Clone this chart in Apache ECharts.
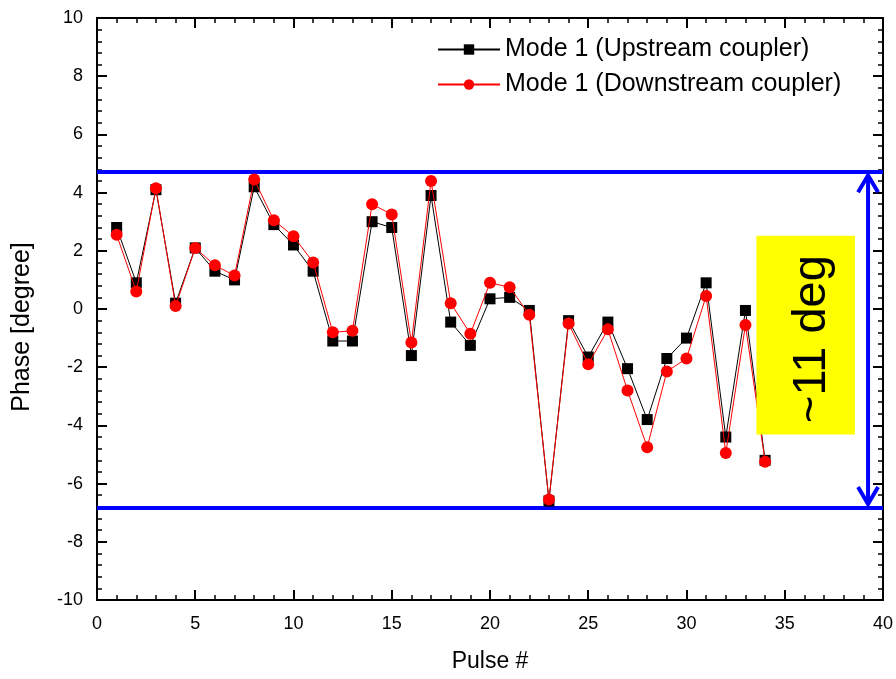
<!DOCTYPE html>
<html>
<head>
<meta charset="utf-8">
<script src="https://cdn.jsdelivr.net/npm/echarts@6/dist/echarts.min.js"></script>
<style>html,body{margin:0;padding:0;background:#fff}#c{width:896px;height:679px}</style>
</head>
<body>
<div id="c"></div>
<script>
const pulses = [1,2,3,4,5,6,7,8,9,10,11,12,13,14,15,16,17,18,19,20,21,22,23,24,25,26,27,28,29,30,31,32,33,34];
const upstream = [2.8,0.9,4.1,0.2,2.1,1.3,1.0,4.2,2.9,2.2,1.3,-1.1,-1.1,3.0,2.8,-1.6,3.9,-0.45,-1.25,0.35,0.4,-0.05,-6.6,-0.4,-1.65,-0.45,-2.05,-3.8,-1.7,-1.0,0.9,-4.4,-0.05,-5.2];
const downstream = [2.55,0.6,4.15,0.1,2.1,1.5,1.15,4.45,3.05,2.5,1.6,-0.8,-0.75,3.6,3.25,-1.15,4.4,0.2,-0.85,0.9,0.75,-0.2,-6.55,-0.5,-1.9,-0.7,-2.8,-4.75,-2.15,-1.7,0.45,-4.95,-0.55,-5.25];
const seriesNames = ['Mode 1 (Upstream coupler)', 'Mode 1 (Downstream coupler)'];
const bandTop = 4.73;
const bandBottom = -6.84;
const arrowX = 39.24;
const boxX = [33.56, 38.57];
const boxY = [-4.31, 2.52];
const boxText = '~11 deg';
const xTicks = [0, 40, 5];
const yTicks = [-10, 10, 2];

const font = 'Arial, "Liberation Sans", sans-serif';
const chart = echarts.init(document.getElementById('c'));

const axisCommon = {
  axisLine: { onZero: false, lineStyle: { color: '#000', width: 2 } },
  axisTick: { inside: true, length: 10, lineStyle: { color: '#000', width: 2 } },
  minorTick: { show: true, splitNumber: 5, length: 5, lineStyle: { color: '#000', width: 1.5 } },
  splitLine: { show: false }
};

chart.setOption({
  animation: false,
  backgroundColor: '#fff',
  grid: { left: 97, right: 13, top: 18, bottom: 79, containLabel: false },
  legend: {
    data: seriesNames,
    orient: 'vertical',
    left: 432,
    top: 32,
    itemWidth: 62,
    itemHeight: 13,
    itemGap: 10,
    textStyle: { fontFamily: font, fontSize: 25, color: '#000' }
  },
  xAxis: [
    Object.assign({}, axisCommon, {
      type: 'value', position: 'bottom', min: xTicks[0], max: xTicks[1], interval: xTicks[2],
      name: 'Pulse #', nameLocation: 'middle', nameGap: 50,
      nameTextStyle: { fontFamily: font, fontSize: 23, color: '#000' },
      axisLabel: { fontFamily: font, fontSize: 18, color: '#000', margin: 15 }
    }),
    Object.assign({}, axisCommon, {
      type: 'value', position: 'top', min: xTicks[0], max: xTicks[1], interval: xTicks[2],
      axisLabel: { show: false }
    })
  ],
  yAxis: [
    Object.assign({}, axisCommon, {
      type: 'value', position: 'left', min: yTicks[0], max: yTicks[1], interval: yTicks[2],
      name: 'Phase [degree]', nameLocation: 'middle', nameGap: 62,
      nameTextStyle: { fontFamily: font, fontSize: 25, color: '#000', padding: [0, 36, 0, 0] },
      axisLabel: { fontFamily: font, fontSize: 18, color: '#000', margin: 14 }
    }),
    Object.assign({}, axisCommon, {
      type: 'value', position: 'right', min: yTicks[0], max: yTicks[1], interval: yTicks[2],
      axisLabel: { show: false }
    })
  ],
  series: [
    {
      name: seriesNames[0], type: 'line', xAxisIndex: 0, yAxisIndex: 0,
      data: pulses.map((p, i) => [p, upstream[i]]),
      symbol: 'rect', symbolSize: 11,
      itemStyle: { color: '#000' },
      lineStyle: { color: '#000', width: 1 },
      z: 3,
      markLine: {
        silent: true, symbol: 'none', label: { show: false },
        lineStyle: { color: '#0000ff', width: 4, type: 'solid' },
        data: [{ yAxis: bandTop }, { yAxis: bandBottom }],
        z: 2
      }
    },
    {
      name: seriesNames[1], type: 'line', xAxisIndex: 0, yAxisIndex: 0,
      data: pulses.map((p, i) => [p, downstream[i]]),
      symbol: 'circle', symbolSize: 12,
      itemStyle: { color: '#ff0000' },
      lineStyle: { color: '#ff0000', width: 1 },
      z: 4
    },
    {
      name: 'arrow', type: 'custom', xAxisIndex: 0, yAxisIndex: 0, silent: true, z: 6,
      data: [[arrowX, bandTop, bandBottom]],
      encode: { x: 0, y: [1, 2] },
      renderItem: function (params, api) {
        const t = api.coord([api.value(0), api.value(1)]);
        const b = api.coord([api.value(0), api.value(2)]);
        const st = { stroke: '#0000ff', lineWidth: 4, fill: null, lineJoin: 'miter' };
        return {
          type: 'group',
          children: [
            { type: 'line', shape: { x1: t[0], y1: t[1] + 4, x2: b[0], y2: b[1] - 4 }, style: st },
            { type: 'polyline', shape: { points: [[t[0] - 10, t[1] + 21], [t[0], t[1] + 4], [t[0] + 10, t[1] + 21]] }, style: st },
            { type: 'polyline', shape: { points: [[b[0] - 10, b[1] - 21], [b[0], b[1] - 4], [b[0] + 10, b[1] - 21]] }, style: st }
          ]
        };
      }
    },
    {
      name: 'box', type: 'custom', xAxisIndex: 0, yAxisIndex: 0, silent: true, z: 7,
      data: [[boxX[0], boxY[0], boxX[1], boxY[1]]],
      encode: { x: [0, 2], y: [1, 3] },
      renderItem: function (params, api) {
        const p1 = api.coord([api.value(0), api.value(3)]);
        const p2 = api.coord([api.value(2), api.value(1)]);
        const cx = (p1[0] + p2[0]) / 2 + 6, cy = (p1[1] + p2[1]) / 2 + 4;
        return {
          type: 'group',
          children: [
            { type: 'rect', shape: { x: p1[0], y: p1[1], width: p2[0] - p1[0], height: p2[1] - p1[1] }, style: { fill: '#ffff00' } },
            { type: 'text', x: cx, y: cy, rotation: Math.PI / 2,
              style: { text: boxText, fontFamily: font, fontSize: 47, fill: '#000', align: 'center', verticalAlign: 'middle' } }
          ]
        };
      }
    }
  ]
});
</script>
</body>
</html>
